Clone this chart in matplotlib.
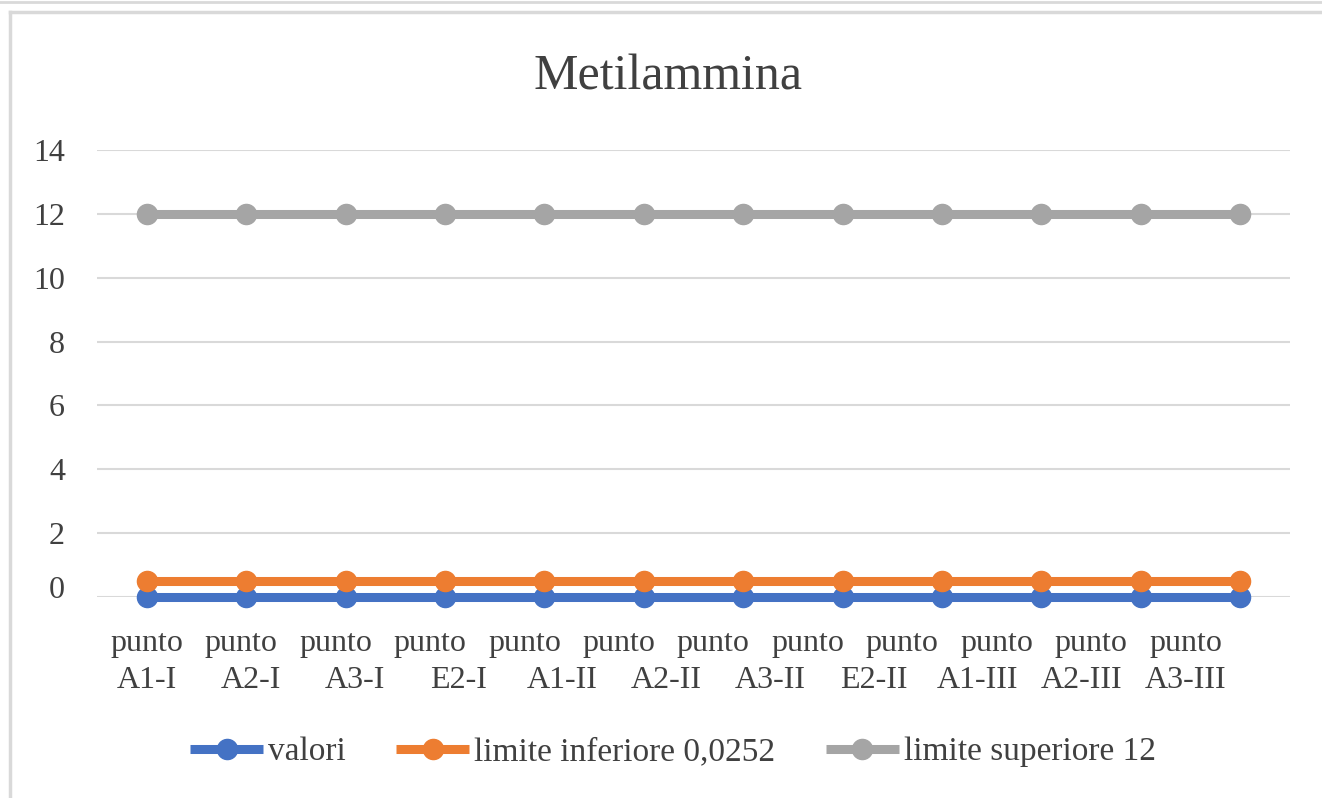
import matplotlib
matplotlib.use('Agg')
import matplotlib.pyplot as plt
import numpy as np
from matplotlib.lines import Line2D
from matplotlib.transforms import ScaledTranslation, blended_transform_factory

plt.rcParams['font.family'] = ['Liberation Serif', 'DejaVu Serif']

# data
n_points = 12
# the category labels wrap badly in the original: 12 "punto" words on top,
# 11 codes underneath
top_words = ['punto'] * 12
codes = ['A1-I', 'A2-I', 'A3-I', 'E2-I', 'A1-II', 'A2-II', 'A3-II', 'E2-II',
         'A1-III', 'A2-III', 'A3-III']
valori = [0, 0, 0, 0, 0, 0, 0, 0, 0, 0, 0, 0]
lim_inf = [0.5, 0.5, 0.5, 0.5, 0.5, 0.5, 0.5, 0.5, 0.5, 0.5, 0.5, 0.5]
lim_sup = [12, 12, 12, 12, 12, 12, 12, 12, 12, 12, 12, 12]
yticks = [0, 2, 4, 6, 8, 10, 12, 14]

text_col = '#404040'
grid_col = '#D9D9D9'

fig = plt.figure(figsize=(13.22, 7.98), dpi=100)
W, H = 1322, 798

# frame lines of the chart box
fig.add_artist(Line2D([0, 1], [1 - 2 / H, 1 - 2 / H], color=grid_col, lw=2))
fig.add_artist(Line2D([10 / W, 1], [1 - 12 / H, 1 - 12 / H], color=grid_col, lw=2.5))
fig.add_artist(Line2D([10 / W, 10 / W], [0, 1 - 12 / H], color=grid_col, lw=2.5))

ax = fig.add_axes([97 / W, 1 - 597 / H, (1290 - 97) / W, (597 - 150) / H])

x = list(range(n_points))
series = [(valori, '#4472C4', 'valori'),
          (lim_inf, '#ED7D31', 'limite inferiore 0,0252'),
          (lim_sup, '#A5A5A5', 'limite superiore 12')]
for vals, col, lab in series:
    ax.plot(x, vals, color=col, lw=6.5, marker='o', ms=14.5, label=lab,
            clip_on=False, zorder=3, solid_capstyle='butt')

ax.set_xlim(-0.5, n_points - 0.5)
ax.set_ylim(0, 14)
ax.set_yticks(yticks)
ax.set_yticklabels([str(v) for v in yticks])
ax.set_xticks(x)
ax.set_xticklabels([])
ax.grid(axis='y', color=grid_col, lw=1.5)
ax.set_axisbelow(True)
for s in ax.spines.values():
    s.set_visible(False)
ax.tick_params(axis='both', length=0, labelsize=23, colors=text_col)
ax.tick_params(axis='y', pad=23)

# the zero label sits a bit higher in the original
lbl0 = ax.get_yticklabels()[0]
lbl0.set_transform(lbl0.get_transform() + ScaledTranslation(0, 0.1, fig.dpi_scale_trans))

# category label rows
tr = blended_transform_factory(ax.transData, fig.transFigure)
for xp, w in zip(np.linspace(0, 10.45, len(top_words)), top_words):
    ax.text(xp, 1 - 643 / H, w, transform=tr, ha='center', va='center',
            fontsize=23, color=text_col)
for xp, c in zip(np.linspace(0, 10.45, len(codes)), codes):
    ax.text(xp, 1 - 681 / H, c, transform=tr, ha='center', va='center',
            fontsize=23, color=text_col)

fig.text(668 / W, 1 - 77 / H, 'Metilammina', ha='center', va='center',
         fontsize=36, color=text_col)

fig.legend(loc='center', bbox_to_anchor=(673 / W, 1 - 752 / H), ncol=3,
           frameon=False, fontsize=24, labelcolor=text_col,
           handlelength=2.2, handletextpad=0.15, columnspacing=1.5)

fig.savefig('out.png', dpi=100)
